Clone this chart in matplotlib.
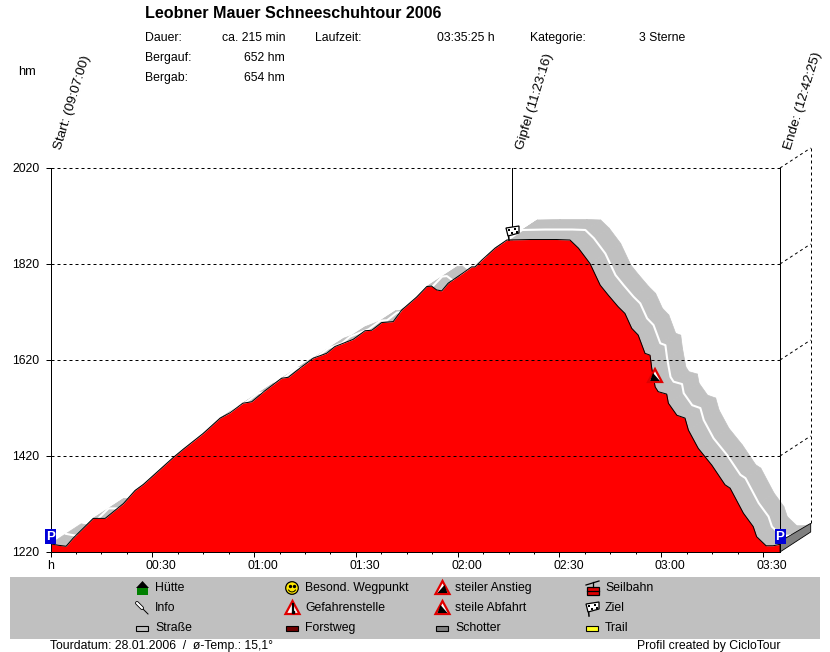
import numpy as np
import matplotlib
matplotlib.use('Agg')
import matplotlib.pyplot as plt
from matplotlib.collections import PolyCollection
from matplotlib.patches import Polygon, Rectangle, Circle
from matplotlib.transforms import ScaledTranslation

plt.rcParams['font.family'] = ['Liberation Sans', 'DejaVu Sans']

WIDTH, HEIGHT = 830, 652

# profile: minutes since start, altitude in m
minutes = [0, 2.3, 4.6, 6.7, 12.6, 16.1, 21.5, 24.9, 27.4, 36.2, 39.1, 45.0, 50.0, 52.9, 56.7, 59.3,
           63.2, 68.1, 70.1, 73.5, 77.5, 81.4, 83.8, 89.2, 92.7, 94.7, 97.6, 101.0, 103.5, 107.9,
           110.9, 112.3, 113.8, 115.3, 117.2, 120.7, 124.1, 125.1, 127.1, 131.0, 134.5, 141.3,
           149.2, 153.1, 155.6, 159.0, 162.0, 164.4, 167.3, 169.3, 171.3, 173.2, 175.2, 176.7,
           177.2, 178.2, 179.1, 181.6, 182.1, 184.6, 187.0, 188.0, 190.9, 194.9, 198.8, 200.3,
           204.2, 207.1, 208.1, 210.9, 213.0, 215.0]
altitude = [1237, 1234, 1232, 1249, 1290, 1290, 1321, 1348, 1361, 1417, 1434, 1467, 1499, 1510, 1530, 1533,
            1556, 1582, 1584, 1603, 1624, 1634, 1648, 1663, 1681, 1682, 1698, 1700, 1724, 1751,
            1773, 1774, 1766, 1764, 1780, 1797, 1814, 1814, 1828, 1853, 1870, 1871,
            1871, 1870, 1853, 1821, 1776, 1755, 1731, 1717, 1686, 1672, 1634, 1630,
            1603, 1564, 1554, 1549, 1530, 1505, 1499, 1474, 1436, 1401, 1360, 1353,
            1301, 1273, 1252, 1233, 1233, 1236]

y_ticks = [1220, 1420, 1620, 1820, 2020]
x_ticks = [0, 30, 60, 90, 120, 150, 180, 210]
x_labels = ['h', '00:30', '01:00', '01:30', '02:00', '02:30', '03:00', '03:30']
summit_minute = 136.1

title = 'Leobner Mauer Schneeschuhtour 2006'
info_left = [('Dauer:', 'ca. 215 min'), ('Bergauf:', '652 hm'), ('Bergab:', '654 hm')]
time_marks = ['Start: (09:07:00)', 'Gipfel (11:23:16)', 'Ende: (12:42:25)']

# depth of the fake 3d band, in data units
DEPTH_X = 9.05
DEPTH_Y = 41.7
TEXT_SIZE = 8.8

fig = plt.figure(figsize=(WIDTH / 100, HEIGHT / 100), dpi=100)
ax = fig.add_axes([50.5 / WIDTH, (HEIGHT - 552) / HEIGHT, 729.5 / WIDTH, 384 / HEIGHT])
ax.set_xlim(0, 215)
ax.set_ylim(1220, 2020)

x = np.array(minutes)
y = np.array(altitude)

# grey band behind the profile
quads = []
for i in range(len(x) - 1):
    quads.append([(x[i], y[i]), (x[i + 1], y[i + 1]),
                  (x[i + 1] + DEPTH_X, y[i + 1] + DEPTH_Y), (x[i] + DEPTH_X, y[i] + DEPTH_Y)])
band = PolyCollection(quads, facecolor='#c0c0c0', edgecolor='#c0c0c0', linewidth=0.5, zorder=1, clip_on=False)
ax.add_collection(band)
ax.plot(x + DEPTH_X / 2, y + DEPTH_Y / 2, color='white', lw=1.5, zorder=1.5, clip_on=False)

ax.fill_between(x, y, 1220, color='#ff0000', lw=0, zorder=2)
ax.plot(x, y, color='black', lw=0.72, zorder=3)

# base of the 3d box
ax.add_patch(Polygon([(215, 1220), (215 + DEPTH_X, 1220 + DEPTH_Y), (215 + DEPTH_X, 1220 + DEPTH_Y + 18),
                      (215, 1242)], facecolor='#808080', edgecolor='black', lw=0.6, zorder=2, clip_on=False))

# back wall
ax.plot([215 + DEPTH_X] * 2, [1220 + DEPTH_Y + 18, 2020 + DEPTH_Y], color='black', lw=0.72,
        ls=(0, (3, 3)), zorder=3, clip_on=False)
for tick in y_ticks[1:]:
    ax.plot([215, 215 + DEPTH_X], [tick, tick + DEPTH_Y], color='black', lw=0.72, ls=(0, (3, 3)),
            zorder=3, clip_on=False)

ax.plot([summit_minute] * 2, [1890, 2020], color='black', lw=0.72, zorder=3)

ax.set_yticks(y_ticks)
ax.set_xticks(x_ticks)
ax.set_xticklabels(x_labels)
ax.set_xticks(np.arange(0, 215, 7.5), minor=True)
ax.tick_params(axis='both', which='major', length=3.6, width=0.72, labelsize=TEXT_SIZE, pad=2.5)
ax.tick_params(axis='y', pad=4.4)
ax.tick_params(axis='x', which='minor', length=1.5, width=0.72)
ax.grid(axis='y', color='black', lw=0.72, ls=(0, (3, 3)), zorder=3)
ax.set_axisbelow(False)
for line in ax.get_ygridlines():
    line.set_clip_on(False)
ax.spines['top'].set_visible(False)
for side in ['left', 'right', 'bottom']:
    ax.spines[side].set_linewidth(0.72)
for label_ in ax.get_xticklabels()[1:]:
    label_.set_transform(label_.get_transform() + ScaledTranslation(9 / 100, 0, fig.dpi_scale_trans))

# overlay in pixel coordinates for the header, legend and icons
top = fig.add_axes([0, 0, 1, 1], zorder=5)
top.set_xlim(0, WIDTH)
top.set_ylim(HEIGHT, 0)
top.axis('off')
top.patch.set_alpha(0)


def label(px, py, s, ha='left', size=TEXT_SIZE, **kw):
    top.text(px, py + 1, s, ha=ha, va='center', fontsize=size, color='black', **kw)


def triangle(cx, cy, fill='white', edge='#e00000'):
    top.add_patch(Polygon([(cx, cy - 7), (cx + 7, cy + 6), (cx - 7, cy + 6)], facecolor=fill,
                          edgecolor=edge, lw=1.6, zorder=6))


def steep_icon(cx, cy, up=True):
    triangle(cx, cy)
    if up:
        pts = [(cx - 5, cy + 5), (cx + 2, cy - 3), (cx + 5, cy + 5)]
    else:
        pts = [(cx - 5, cy + 5), (cx - 2, cy - 3), (cx + 5, cy + 5)]
    top.add_patch(Polygon(pts, facecolor='black', edgecolor='none', zorder=7))


def flag_icon(cx, cy):
    top.plot([cx - 4, cx - 3], [cy - 2, cy + 8], color='black', lw=1.1, zorder=7)
    top.add_patch(Polygon([(cx - 6, cy - 4), (cx + 7, cy - 6), (cx + 7, cy + 1), (cx - 4, cy + 4)],
                          facecolor='white', edgecolor='black', lw=0.9, zorder=7))
    # checker pattern of the flag
    top.plot([cx - 3, cx + 3, cx + 0, cx + 5],
             [cy - 2, cy - 3, cy + 1, cy + 0],
             ls='none', marker='s', ms=1.5, mew=0, color='black', zorder=8)


def road_icon(cx, cy, color):
    top.add_patch(Rectangle((cx - 6.5, cy - 2), 12, 5, facecolor=color, edgecolor='black', lw=0.8, zorder=6))


def parking(cx, cy):
    top.add_patch(Rectangle((cx - 5.5, cy - 7.5), 11, 15, facecolor='#0000d8', edgecolor='none', zorder=6))
    top.text(cx, cy, 'P', color='white', fontsize=9.6, fontweight='bold', ha='center', va='center', zorder=7)


label(145, 12.5, title, size=11.6, fontweight='bold')
for (name, value), py in zip(info_left, [37, 57, 77]):
    label(145, py, name)
    label(285, py, value, ha='right')
label(315, 37, 'Laufzeit:')
label(495, 37, '03:35:25 h', ha='right')
label(530, 37, 'Kategorie:')
label(639, 37, '3 Sterne')
label(18, 71, 'hm', size=9.2)

for px, s in zip([64, 526, 794], time_marks):
    top.text(px, 151, s, rotation=73, rotation_mode='anchor', ha='left', va='bottom', fontsize=9.7)

parking(50.5, 536.5)
parking(780, 536.5)
flag_icon(512, 232)
steep_icon(655, 376, up=False)

# legend box
top.add_patch(Rectangle((10, 577), 810, 62, facecolor='#c0c0c0', edgecolor='none', zorder=1))
for px, py, s in [(155, 587, 'Hütte'), (155, 607, 'Info'), (155, 627, 'Straße'),
                  (305, 587, 'Besond. Wegpunkt'), (305, 607, 'Gefahrenstelle'), (305, 627, 'Forstweg'),
                  (455, 587, 'steiler Anstieg'), (455, 607, 'steile Abfahrt'), (455, 627, 'Schotter'),
                  (605, 587, 'Seilbahn'), (605, 607, 'Ziel'), (605, 627, 'Trail')]:
    label(px, py, s)

# Huette
top.add_patch(Rectangle((137, 588), 11, 7, facecolor='#008000', edgecolor='none', zorder=6))
top.add_patch(Polygon([(136, 588), (142.5, 581), (149, 588)], facecolor='black', edgecolor='none', zorder=7))
# Info pin
top.plot([140, 148], [606, 614], color='black', lw=0.7, zorder=6)
top.plot([137, 142], [603, 608], color='black', lw=2.8, zorder=6, solid_capstyle='round')
top.plot([137, 142], [603, 608], color='white', lw=1.6, zorder=7, solid_capstyle='round')
road_icon(142, 628, '#c0c0c0')
# smiley
top.add_patch(Circle((292, 588), 6.3, facecolor='#ffe800', edgecolor='black', lw=0.9, zorder=6))
top.plot([290, 294], [586, 586], ls='none', marker='o', ms=1.4, color='black', zorder=7)
top.plot([288.5, 290, 292, 294, 295.5], [590, 591.5, 592, 591.5, 590], color='black', lw=0.7, zorder=7)
# danger sign
triangle(292.5, 608)
top.plot([292.5, 292.5], [604, 610], color='black', lw=1.6, zorder=7)
top.plot([292.5], [612], marker='s', ms=1.6, color='black', zorder=7)
road_icon(292, 628, '#700000')
steep_icon(442.5, 588, up=True)
steep_icon(442.5, 608, up=False)
road_icon(442, 628, '#808080')
# cable car
top.plot([586, 599], [585, 581], color='black', lw=0.9, zorder=7)
top.plot([592.5, 592.5], [582, 587], color='black', lw=0.9, zorder=7)
top.add_patch(Rectangle((587, 587), 12, 8, facecolor='#e00000', edgecolor='black', lw=0.9, zorder=6))
top.plot([587, 599], [591, 591], color='black', lw=0.9, zorder=7)
flag_icon(592, 608)
road_icon(592, 628, '#ffff20')

label(50, 645, 'Tourdatum: 28.01.2006  /  ø-Temp.: 15,1°')
label(780, 645, 'Profil created by CicloTour', ha='right')

fig.savefig('out.png', dpi=100)
